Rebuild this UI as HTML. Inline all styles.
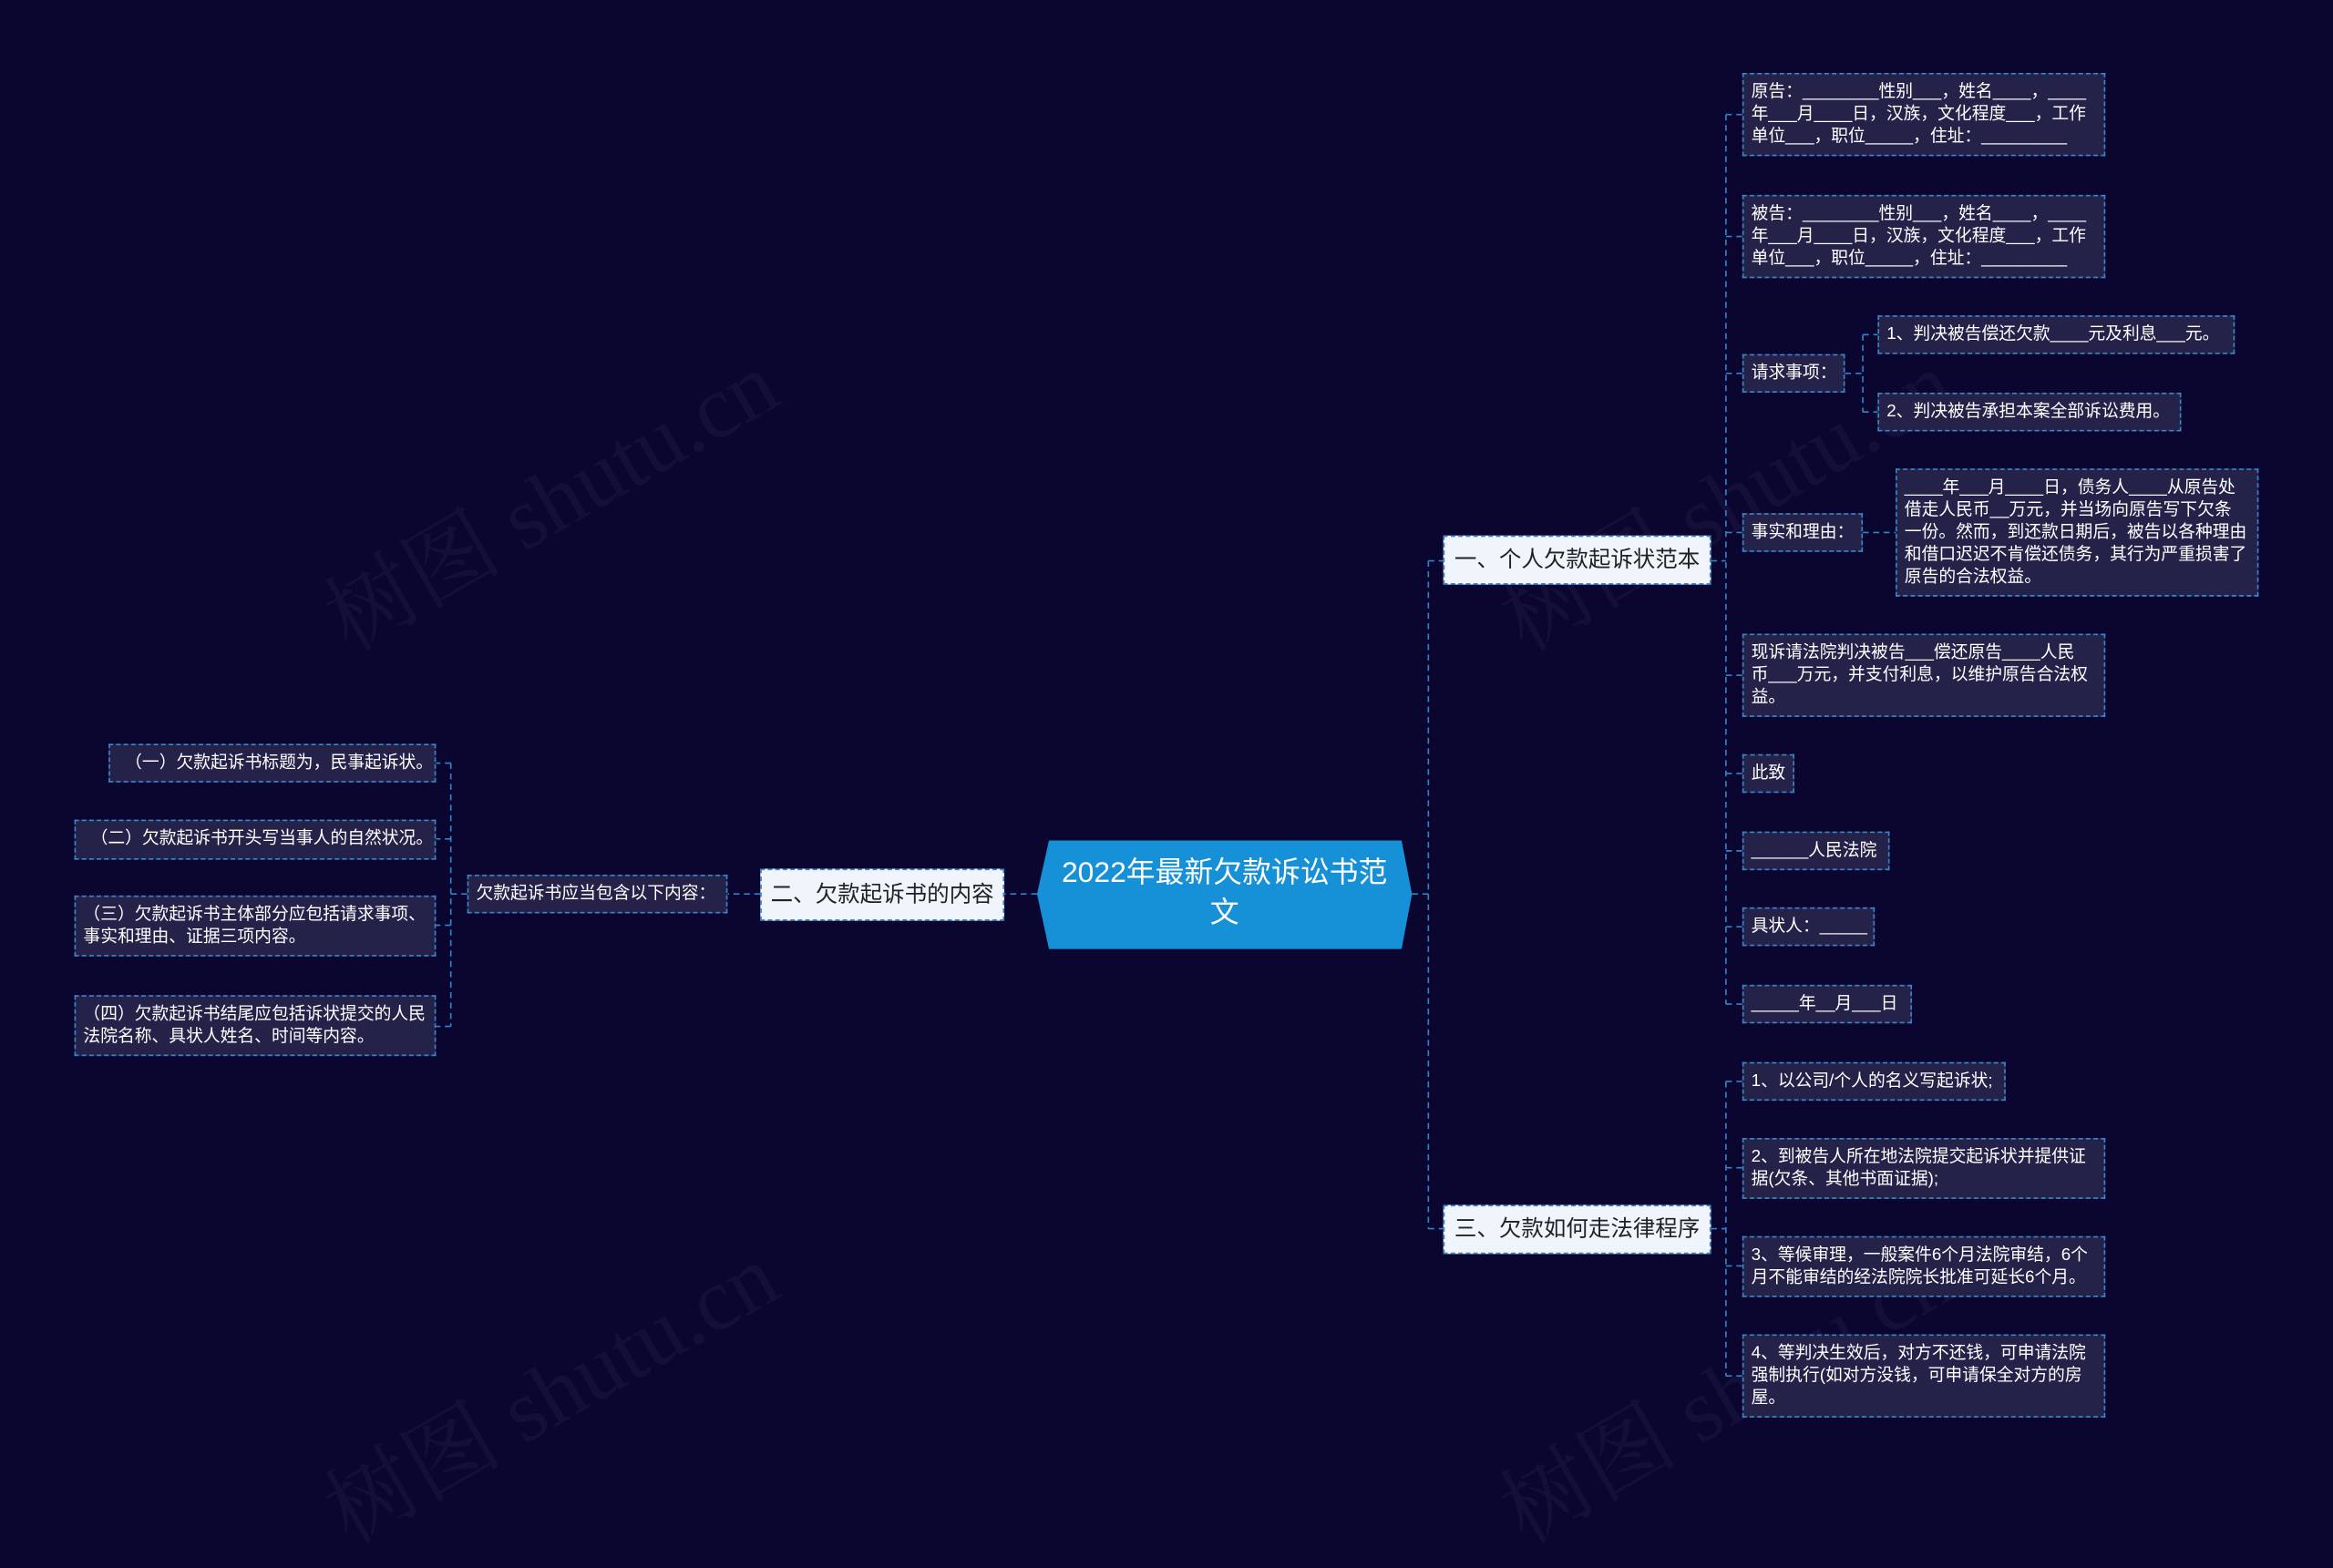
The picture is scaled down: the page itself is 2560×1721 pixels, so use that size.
<!DOCTYPE html>
<html><head><meta charset="utf-8"><style>
html,body{margin:0;padding:0;background:#0a0630;width:2560px;height:1639px;overflow:hidden}
#w{position:absolute;left:0;top:0;width:1568px;height:1004px;transform:scale(1.63265);transform-origin:0 0;font-family:"Liberation Sans","Noto Sans CJK SC",sans-serif}
.b{position:absolute;box-sizing:border-box;background:#25224a;border:1px dashed #3a86c8;color:#fff;font-size:11.5px;line-height:15px;padding:5px 5px;white-space:nowrap;overflow:hidden}
.m{position:absolute;box-sizing:border-box;background:#f0f5fc;border:1px dashed #3a86c8;color:#222;font-size:15px;line-height:31px;text-align:center;white-space:nowrap}
.wm{position:absolute;color:rgba(255,255,255,0.04);font-size:60px;font-family:"Liberation Serif","Noto Serif CJK SC",serif;transform:rotate(-30deg);white-space:nowrap}
svg{position:absolute;left:0;top:0}
</style></head><body><div id="w">
<div class="wm" style="left:200px;top:290px">树图 shutu.cn</div>
<div class="wm" style="left:990px;top:290px">树图 shutu.cn</div>
<div class="wm" style="left:200px;top:890px">树图 shutu.cn</div>
<div class="wm" style="left:990px;top:890px">树图 shutu.cn</div>
<svg width="1568" height="1004"><g stroke="#2f84c8" stroke-width="1" stroke-dasharray="4,3" fill="none">
<path d="M949 601 H960 M960 377 V826 M960 377 H970 M960 826 H970"/>
<path d="M1150 377 H1160 M1160 77 V675 M1160 77 H1171 M1160 159 H1171 M1160 251 H1171 M1160 358 H1171 M1160 454 H1171 M1160 520 H1171 M1160 572 H1171 M1160 623 H1171 M1160 675 H1171"/>
<path d="M1240 251 H1252 M1252 225 V277 M1252 225 H1262 M1252 277 H1262"/>
<path d="M1252 358 H1274"/>
<path d="M1150 826 H1160 M1160 727 V925 M1160 727 H1171 M1160 785 H1171 M1160 851 H1171 M1160 925 H1171"/>
<path d="M697 601 H675 M511 601 H489 M314 601 H303 M303 513 V690 M303 513 H293 M303 564 H293 M303 622 H293 M303 690 H293"/>
</g>
<polygon points="705,565 942,565 949,601 942,638 705,638 697,601" fill="#1690d6"/>
</svg>
<div style="position:absolute;left:709px;top:574px;width:228px;text-align:center;color:#fff;font-size:19.5px;line-height:27px;word-break:break-all">2022年最新欠款诉讼书范文</div>
<div class="m" style="left:970px;top:360px;width:180px;height:33px">一、个人欠款起诉状范本</div>
<div class="m" style="left:970px;top:810px;width:180px;height:33px">三、欠款如何走法律程序</div>
<div class="m" style="left:511px;top:584px;width:164px;height:35px;line-height:33px">二、欠款起诉书的内容</div>
<div class="b" style="left:314px;top:588px;width:175px;height:26px">欠款起诉书应当包含以下内容：</div>
<div class="b" style="left:73px;top:500px;width:220px;height:26px;padding-left:10px">（一）欠款起诉书标题为，民事起诉状。</div>
<div class="b" style="left:50px;top:551px;width:243px;height:27px;padding-left:10px">（二）欠款起诉书开头写当事人的自然状况。</div>
<div class="b" style="left:50px;top:602px;width:243px;height:41px">（三）欠款起诉书主体部分应包括请求事项、<br>事实和理由、证据三项内容。</div>
<div class="b" style="left:50px;top:669px;width:243px;height:41px">（四）欠款起诉书结尾应包括诉状提交的人民<br>法院名称、具状人姓名、时间等内容。</div>
<div class="b" style="left:1171px;top:49px;width:244px;height:56px">原告：________性别___，姓名____，____<br>年___月____日，汉族，文化程度___，工作<br>单位___，职位_____，住址：_________</div>
<div class="b" style="left:1171px;top:131px;width:244px;height:56px">被告：________性别___，姓名____，____<br>年___月____日，汉族，文化程度___，工作<br>单位___，职位_____，住址：_________</div>
<div class="b" style="left:1171px;top:238px;width:69px;height:26px">请求事项：</div>
<div class="b" style="left:1262px;top:212px;width:240px;height:26px">1、判决被告偿还欠款____元及利息___元。</div>
<div class="b" style="left:1262px;top:264px;width:204px;height:26px">2、判决被告承担本案全部诉讼费用。</div>
<div class="b" style="left:1171px;top:345px;width:81px;height:26px">事实和理由：</div>
<div class="b" style="left:1274px;top:315px;width:244px;height:86px">____年___月____日，债务人____从原告处<br>借走人民币__万元，并当场向原告写下欠条<br>一份。然而，到还款日期后，被告以各种理由<br>和借口迟迟不肯偿还债务，其行为严重损害了<br>原告的合法权益。</div>
<div class="b" style="left:1171px;top:426px;width:244px;height:56px">现诉请法院判决被告___偿还原告____人民<br>币___万元，并支付利息，以维护原告合法权<br>益。</div>
<div class="b" style="left:1171px;top:507px;width:35px;height:26px">此致</div>
<div class="b" style="left:1171px;top:559px;width:99px;height:26px">______人民法院</div>
<div class="b" style="left:1171px;top:610px;width:89px;height:26px">具状人：_____</div>
<div class="b" style="left:1171px;top:662px;width:114px;height:26px">_____年__月___日</div>
<div class="b" style="left:1171px;top:714px;width:177px;height:26px">1、以公司/个人的名义写起诉状;</div>
<div class="b" style="left:1171px;top:765px;width:244px;height:41px">2、到被告人所在地法院提交起诉状并提供证<br>据(欠条、其他书面证据);</div>
<div class="b" style="left:1171px;top:831px;width:244px;height:41px">3、等候审理，一般案件6个月法院审结，6个<br>月不能审结的经法院院长批准可延长6个月。</div>
<div class="b" style="left:1171px;top:897px;width:244px;height:56px">4、等判决生效后，对方不还钱，可申请法院<br>强制执行(如对方没钱，可申请保全对方的房<br>屋。</div>
</div></body></html>
